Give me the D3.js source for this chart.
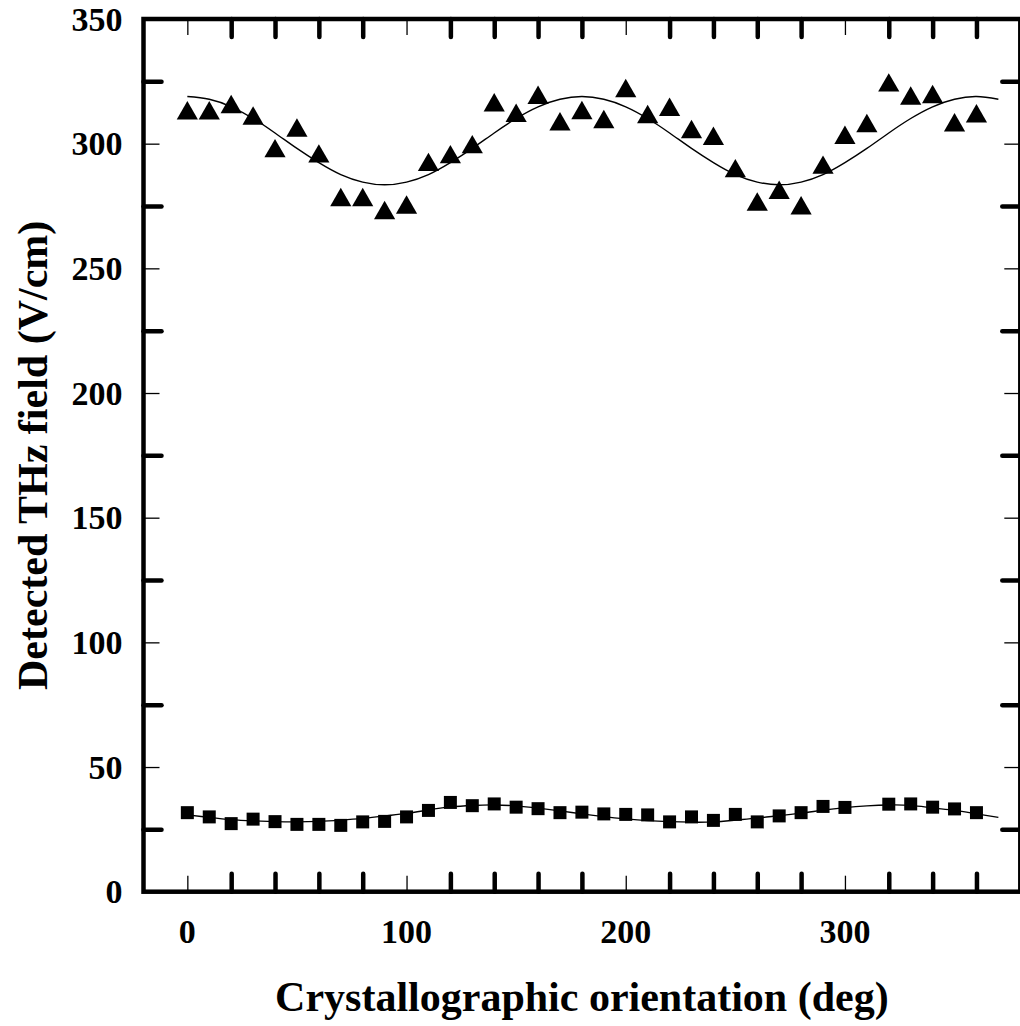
<!DOCTYPE html>
<html lang="en">
<head>
<meta charset="UTF-8">
<title>THz field vs orientation</title>
<style>
  body { margin: 0; background: #fff; }
  .chartBlock { width: 1020px; height: 1026px; }
  text { font-family: "Liberation Serif", "Times New Roman", serif; font-weight: bold; fill: #000; }
</style>
</head>
<body>
<div class="chartBlock"></div>
<script src="https://d3js.org/d3.v7.min.js"></script>
<script>
  // orientation angles (deg)
  const angles = d3.range(0, 361, 10);

  // upper series (triangles)
  const triangleVals = [313.4, 313.4, 315.9, 311.3, 298.2, 306.5, 296.1, 278.6, 278.6, 273.4,
                        275.6, 292.7, 295.8, 299.8, 316.6, 312.4, 319.6, 309.0, 313.5, 309.9,
                        322.3, 311.9, 314.8, 305.9, 303.2, 290.2, 276.8, 281.5, 275.3, 291.6,
                        303.6, 308.3, 324.6, 319.3, 319.9, 308.6, 312.2];

  // lower series (squares), null = no point drawn
  const squareVals = [31.7, 30.0, 27.3, 29.1, 28.1, 27.0, 27.0, 26.6, 28.0, 28.2,
                      30.0, 32.6, 35.8, 34.5, 35.2, 33.9, 33.3, 31.7, 31.9, 31.2,
                      31.0, 30.8, 28.0, 30.0, 28.6, 31.0, 28.0, 30.4, 31.7, 34.2,
                      33.8, null, 35.1, 35.2, 33.9, 33.2, 31.7];

  // fit curves, read every 10 deg from 0 to 370
  const fitAngles = d3.range(0, 371, 10);
  const fitUpper = [318.9, 317.8, 314.8, 310.1, 304.3, 298.1, 292.4, 287.6, 284.6, 283.5,
                    284.6, 287.6, 292.4, 298.1, 304.3, 310.1, 314.8, 317.8, 318.9, 317.8,
                    314.8, 310.1, 304.3, 298.1, 292.4, 287.6, 284.6, 283.5, 284.6, 287.6,
                    292.4, 298.1, 304.3, 310.1, 314.8, 317.8, 318.9, 317.8];
  const fitLower = [30.8, 29.8, 28.9, 28.4, 28.1, 28.0, 28.2, 28.7, 29.4, 30.4,
                    31.4, 32.8, 34.0, 34.6, 34.8, 34.4, 33.5, 32.4, 31.2, 30.1,
                    29.2, 28.5, 28.1, 27.9, 28.0, 28.7, 29.5, 30.5, 31.5, 32.7,
                    33.7, 34.4, 34.8, 34.6, 33.6, 32.6, 31.2, 29.8];

  // ticks
  const xLabelTicks = [0, 100, 200, 300];
  const xMinorTicks = [20, 40, 60, 80, 120, 140, 160, 180, 220, 240, 260, 280, 320, 340, 360];
  const yLabelTicks = [0, 50, 100, 150, 200, 250, 300, 350];
  const yMinorTicks = [25, 75, 125, 175, 225, 275, 325];

  const xTitle = 'Crystallographic orientation (deg)';
  const yTitle = 'Detected THz field (V/cm)';

  const W = 1020, H = 1026;
  const plotL = 143.5, plotR = 1020.3, plotT = 19, plotB = 891.7;

  const svg = d3.select('.chartBlock').append('svg')
                .attr('width', W).attr('height', H);

  const xScale = d3.scaleLinear().domain([-20, 380]).range([plotL, plotR]);
  const yScale = d3.scaleLinear().domain([0, 350]).range([plotB, plotT]);

  // thin ticks at labelled values, heavy round ticks in between (as in the source plot)
  const styleTicks = (g, thin) => {
    g.select('.domain').remove();
    g.selectAll('.tick line')
     .attr('stroke', '#000')
     .attr('stroke-width', thin ? 1.3 : 4.5)
     .attr('stroke-linecap', thin ? 'butt' : 'round');
    g.selectAll('.tick text').remove();
  };

  const drawXTicks = (vals, thin, len) => {
    svg.append('g').attr('transform', `translate(0,${plotB})`)
       .call(d3.axisTop(xScale).tickValues(vals).tickSizeOuter(0).tickSize(len))
       .call(g => styleTicks(g, thin));
    svg.append('g').attr('transform', `translate(0,${plotT})`)
       .call(d3.axisBottom(xScale).tickValues(vals).tickSizeOuter(0).tickSize(len))
       .call(g => styleTicks(g, thin));
  };
  const drawYTicks = (vals, thin, len) => {
    svg.append('g').attr('transform', `translate(${plotL},0)`)
       .call(d3.axisRight(yScale).tickValues(vals).tickSizeOuter(0).tickSize(len))
       .call(g => styleTicks(g, thin));
    svg.append('g').attr('transform', `translate(${plotR},0)`)
       .call(d3.axisLeft(yScale).tickValues(vals).tickSizeOuter(0).tickSize(len))
       .call(g => styleTicks(g, thin));
  };

  drawXTicks(xLabelTicks, true, 16);
  drawXTicks(xMinorTicks, false, 18);
  drawYTicks(yLabelTicks.filter(v => v > 0 && v < 350), true, 16);
  drawYTicks(yMinorTicks, false, 18);

  // frame
  svg.append('rect')
     .attr('x', plotL).attr('y', plotT)
     .attr('width', plotR - plotL).attr('height', plotB - plotT)
     .attr('fill', 'none').attr('stroke', '#000').attr('stroke-width', 4.5);

  // tick labels
  svg.append('g').selectAll('text')
     .data(xLabelTicks).join('text')
     .attr('x', d => xScale(d)).attr('y', 943)
     .attr('text-anchor', 'middle').style('font-size', '34px')
     .text(d => d);

  svg.append('g').selectAll('text')
     .data(yLabelTicks).join('text')
     .attr('x', plotL - 21).attr('y', d => yScale(d))
     .attr('dy', '0.34em')
     .attr('text-anchor', 'end').style('font-size', '34px')
     .text(d => d);

  // axis titles
  svg.append('text')
     .attr('x', (plotL + plotR) / 2).attr('y', 1011)
     .attr('text-anchor', 'middle').style('font-size', '42px')
     .text(xTitle);

  svg.append('text')
     .attr('transform', `translate(47,${(plotT + plotB) / 2}) rotate(-90)`)
     .attr('text-anchor', 'middle').style('font-size', '42px')
     .text(yTitle);

  // fit curves
  const line = d3.line()
                 .x(d => xScale(d[0]))
                 .y(d => yScale(d[1]))
                 .curve(d3.curveNatural);

  [fitUpper, fitLower].forEach(vals => {
    svg.append('path')
       .datum(fitAngles.map((a, i) => [a, vals[i]]))
       .attr('d', line)
       .attr('fill', 'none').attr('stroke', '#000').attr('stroke-width', 1.4);
  });

  // triangles (centred on their bounding box)
  svg.append('g').selectAll('path')
     .data(angles.map((a, i) => ({ a, v: triangleVals[i] })))
     .join('path')
     .attr('transform', d => `translate(${xScale(d.a)},${yScale(d.v)})`)
     .attr('d', 'M0,-9.2L10.6,9.2L-10.6,9.2Z')
     .attr('fill', '#000');

  // squares
  svg.append('g').selectAll('path')
     .data(angles.map((a, i) => ({ a, v: squareVals[i] })).filter(d => d.v !== null))
     .join('path')
     .attr('transform', d => `translate(${xScale(d.a)},${yScale(d.v)})`)
     .attr('d', d3.symbol(d3.symbolSquare, 169))
     .attr('fill', '#000');
</script>
</body>
</html>
